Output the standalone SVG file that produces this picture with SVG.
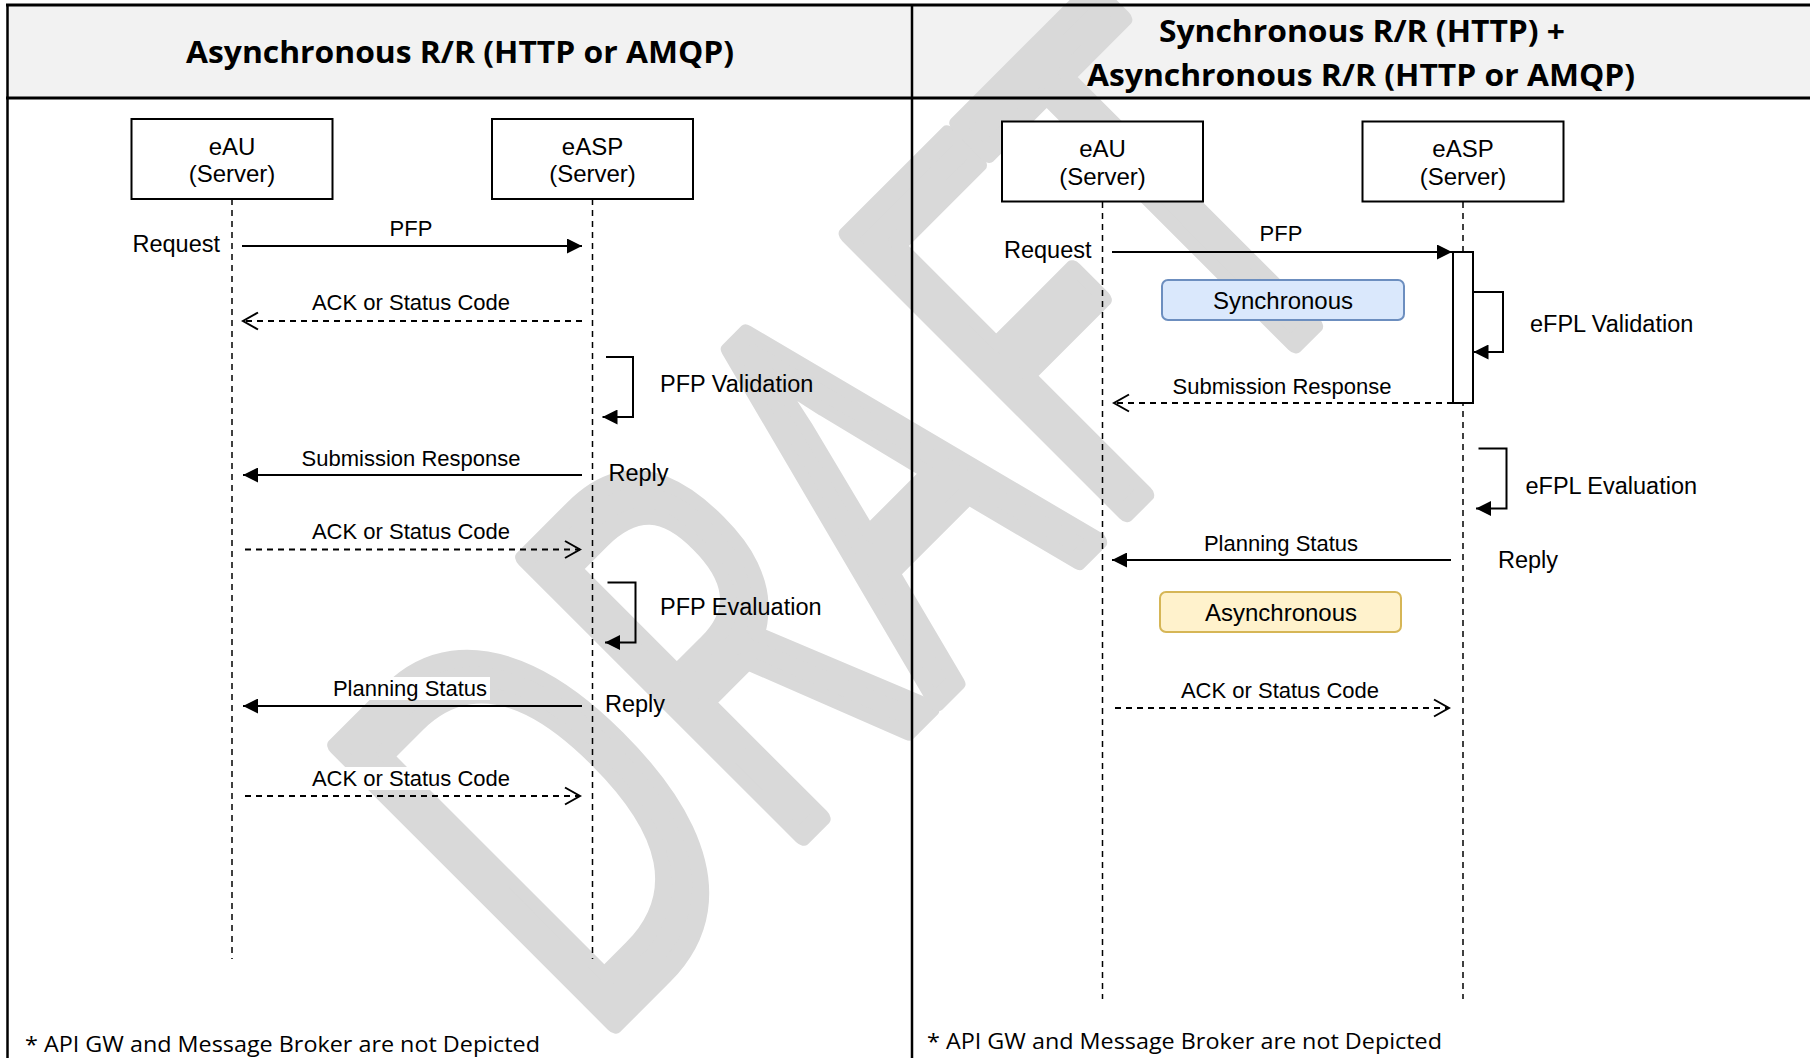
<svg xmlns="http://www.w3.org/2000/svg" width="1810" height="1058" viewBox="0 0 1810 1058">
<style>
.frame{stroke:#000;fill:none}
.box{fill:#fff;stroke:#000;stroke-width:2}
.t{font-family:"Liberation Sans",Arial,sans-serif;fill:#000}
.bt{font-size:24px;text-anchor:middle}
.ml{font-size:22px;text-anchor:middle}
.sl{font-size:23.5px}
.life{stroke:#000;stroke-width:1.5;stroke-dasharray:6 5;fill:none}
.msg{stroke:#000;stroke-width:2;fill:none}
.dash{stroke-dasharray:6 5}
.lbg{fill:#fff}
.title{font-family:"Open Sans","Liberation Sans",sans-serif;font-weight:700;font-size:30px;text-anchor:middle;fill:#000}
.foot{font-family:"Open Sans","Liberation Sans",sans-serif;font-size:22.5px;fill:#000}
.wm{font-family:"Open Sans","Liberation Sans",sans-serif;font-weight:400;font-size:549px;fill:#d9d9d9;stroke:#d9d9d9;stroke-width:20;stroke-linejoin:round}
</style>
<defs>
<marker id="block" viewBox="0 0 15 15" refX="15" refY="7.5" markerWidth="15" markerHeight="15" markerUnits="userSpaceOnUse" orient="auto">
<path d="M0,0 L15,7.5 L0,15 z" fill="#000"/>
</marker>
<marker id="open" viewBox="-2 -2 19 21" refX="15" refY="8.5" markerWidth="19" markerHeight="21" markerUnits="userSpaceOnUse" orient="auto">
<path d="M0,0 L15,8.5 L0,17" fill="none" stroke="#000" stroke-width="2"/>
</marker>
</defs>
<rect x="0" y="0" width="1810" height="1058" fill="#fff"/>
<rect x="7" y="5" width="1803" height="93" fill="#f2f2f2"/>
<g id="watermark">
<text class="wm" transform="translate(587.5,1050.5) rotate(-45)" x="0" y="0" textLength="1114" lengthAdjust="spacingAndGlyphs">DRAFT</text>
</g>
<g id="frame">
<line class="frame" x1="6" y1="5" x2="1810" y2="5" stroke-width="3"/>
<line class="frame" x1="6" y1="98" x2="1810" y2="98" stroke-width="3"/>
<line class="frame" x1="7.5" y1="4" x2="7.5" y2="1058" stroke-width="2.5"/>
<line class="frame" x1="912" y1="4" x2="912" y2="1058" stroke-width="2.5"/>
</g>
<g id="titles">
<text class="title" x="460" y="63" textLength="548" lengthAdjust="spacingAndGlyphs">Asynchronous R/R (HTTP or AMQP)</text>
<text class="title" x="1362" y="42" textLength="406" lengthAdjust="spacingAndGlyphs">Synchronous R/R (HTTP) +</text>
<text class="title" x="1361" y="86" textLength="548" lengthAdjust="spacingAndGlyphs">Asynchronous R/R (HTTP or AMQP)</text>
</g>
<g id="lifelines">
<line class="life" x1="232" y1="199" x2="232" y2="959"/>
<line class="life" x1="592.5" y1="199" x2="592.5" y2="959"/>
<line class="life" x1="1102.5" y1="202" x2="1102.5" y2="999"/>
<line class="life" x1="1463" y1="202" x2="1463" y2="999"/>
</g>
<g id="left-eAU">
<rect class="box" x="131.5" y="119" width="201" height="80"/>
<text class="t bt" x="232" y="154.5">eAU</text>
<text class="t bt" x="232" y="182">(Server)</text>
</g>
<g id="left-eASP">
<rect class="box" x="492" y="119" width="201" height="80"/>
<text class="t bt" x="592.5" y="154.5">eASP</text>
<text class="t bt" x="592.5" y="182">(Server)</text>
</g>
<g id="right-eAU">
<rect class="box" x="1002" y="121.5" width="201" height="80"/>
<text class="t bt" x="1102.5" y="157">eAU</text>
<text class="t bt" x="1102.5" y="184.5">(Server)</text>
</g>
<g id="right-eASP">
<rect class="box" x="1362.5" y="121.5" width="201" height="80"/>
<text class="t bt" x="1463" y="157">eASP</text>
<text class="t bt" x="1463" y="184.5">(Server)</text>
</g>
<g id="activation">
<rect class="box" x="1453" y="252" width="20" height="151"/>
</g>
<g id="sync-note">
<rect x="1162" y="280" width="242" height="40" rx="6" fill="#dae8fc" stroke="#6c8ebf" stroke-width="2"/>
<text class="t bt" x="1283" y="308.5">Synchronous</text>
</g>
<g id="async-note">
<rect x="1160" y="592" width="241" height="40" rx="6" fill="#fff2cc" stroke="#d6b656" stroke-width="2"/>
<text class="t bt" x="1281" y="620.5">Asynchronous</text>
</g>
<g id="connectors">
<line class="msg" x1="242" y1="246" x2="582" y2="246" marker-end="url(#block)"/>
<line class="msg dash" x1="582" y1="321" x2="243" y2="321" marker-end="url(#open)"/>
<path class="msg" d="M606,357 H633 V417 H602.5" marker-end="url(#block)"/>
<line class="msg" x1="582" y1="475" x2="243" y2="475" marker-end="url(#block)"/>
<line class="msg dash" x1="245" y1="549.5" x2="580" y2="549.5" marker-end="url(#open)"/>
<path class="msg" d="M607.5,582.5 H635.5 V642.5 H605" marker-end="url(#block)"/>
<line class="msg" x1="582" y1="706" x2="243" y2="706" marker-end="url(#block)"/>
<line class="msg dash" x1="245" y1="796" x2="580" y2="796" marker-end="url(#open)"/>
<line class="msg" x1="1112" y1="252" x2="1452" y2="252" marker-end="url(#block)"/>
<path class="msg" d="M1474,292 H1503 V352 H1473.5" marker-end="url(#block)"/>
<line class="msg dash" x1="1453" y1="403" x2="1114" y2="403" marker-end="url(#open)"/>
<path class="msg" d="M1478.5,448.5 H1506.5 V508.5 H1476" marker-end="url(#block)"/>
<line class="msg" x1="1451" y1="560" x2="1112" y2="560" marker-end="url(#block)"/>
<line class="msg dash" x1="1115" y1="708" x2="1449" y2="708" marker-end="url(#open)"/>
</g>
<g id="labels">
<rect class="lbg" x="387" y="217" width="48" height="23"/>
<text class="t ml" x="411" y="236">PFP</text>
<rect class="lbg" x="310" y="291" width="202" height="23"/>
<text class="t ml" x="411" y="310">ACK or Status Code</text>
<rect class="lbg" x="302" y="447" width="218" height="23"/>
<text class="t ml" x="411" y="466">Submission Response</text>
<rect class="lbg" x="310" y="520" width="202" height="23"/>
<text class="t ml" x="411" y="539">ACK or Status Code</text>
<rect class="lbg" x="331" y="677" width="159" height="23"/>
<text class="t ml" x="410" y="696">Planning Status</text>
<rect class="lbg" x="310" y="767" width="202" height="23"/>
<text class="t ml" x="411" y="786">ACK or Status Code</text>
<rect class="lbg" x="1257" y="222" width="48" height="23"/>
<text class="t ml" x="1281" y="241">PFP</text>
<rect class="lbg" x="1173" y="375" width="218" height="23"/>
<text class="t ml" x="1282" y="394">Submission Response</text>
<rect class="lbg" x="1202" y="531" width="159" height="23"/>
<text class="t ml" x="1281" y="550.5">Planning Status</text>
<rect class="lbg" x="1179" y="679" width="202" height="23"/>
<text class="t ml" x="1280" y="698">ACK or Status Code</text>
<text class="t sl" x="220" y="252" text-anchor="end">Request</text>
<text class="t sl" x="660" y="391.5">PFP Validation</text>
<text class="t sl" x="608.5" y="481">Reply</text>
<text class="t sl" x="660" y="615">PFP Evaluation</text>
<text class="t sl" x="605" y="711.5">Reply</text>
<text class="t sl" x="1091.5" y="257.5" text-anchor="end">Request</text>
<text class="t sl" x="1530" y="332">eFPL Validation</text>
<text class="t sl" x="1525.5" y="493.5">eFPL Evaluation</text>
<text class="t sl" x="1498" y="568">Reply</text>
</g>
<g id="footer">
<text class="foot" x="25" y="1052" textLength="515" lengthAdjust="spacingAndGlyphs">* API GW and Message Broker are not Depicted</text>
<text class="foot" x="927" y="1049" textLength="515" lengthAdjust="spacingAndGlyphs">* API GW and Message Broker are not Depicted</text>
</g>
</svg>
